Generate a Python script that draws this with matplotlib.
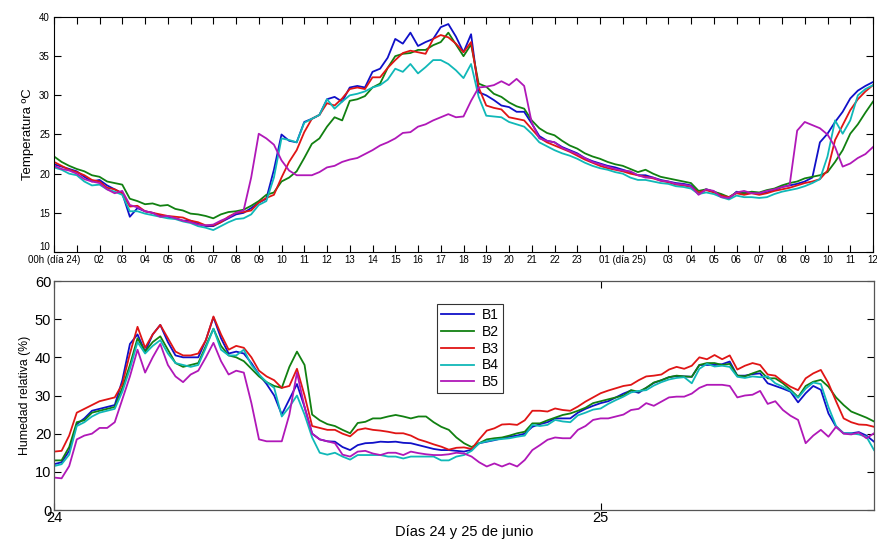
import numpy as np
import matplotlib
matplotlib.use("Agg")
import matplotlib.pyplot as plt

plt.rcParams['font.family'] = ['Liberation Sans', 'DejaVu Sans']

# readings every 20 minutes, from 00h on day 24 to 12h on day 25
STEP_H = 1 / 3

temp_b1 = [
    21.2, 20.9, 20.6, 20.3, 19.6, 19.0, 19.2, 18.5, 18.0, 17.5, 14.5, 15.6,
    15.2, 15.0, 14.6, 14.5, 14.3, 14.0, 14.0, 13.6, 13.3, 13.3, 13.8, 14.3,
    14.8, 15.0, 15.6, 16.3, 16.8, 20.5, 25.0, 24.2, 24.0, 26.6, 27.0, 27.5,
    29.5, 29.8, 29.2, 31.0, 31.2, 31.0, 33.0, 33.4, 34.8, 37.2, 36.6, 38.0,
    36.3, 36.8, 37.2, 38.7, 39.1, 37.5, 35.5, 37.8, 30.4, 30.0, 29.4, 28.7,
    28.5, 27.9, 27.9, 26.4, 24.8, 24.2, 24.0, 23.4, 23.0, 22.6, 22.0, 21.6,
    21.3, 21.0, 20.8, 20.5, 20.2, 19.8, 19.8, 19.5, 19.2, 19.0, 18.8, 18.7,
    18.5, 17.5, 18.0, 17.7, 17.3, 16.8, 17.7, 17.5, 17.6, 17.4, 17.6, 17.9,
    18.3, 18.5, 18.7, 19.0, 19.5, 24.0, 25.1, 26.6, 27.9, 29.6, 30.6, 31.2,
    31.7]
temp_b2 = [
    22.2, 21.5, 21.0, 20.6, 20.3, 19.8, 19.6, 19.0, 18.8, 18.6, 16.8, 16.5,
    16.1, 16.2, 15.9, 16.0, 15.5, 15.3, 14.9, 14.8, 14.6, 14.3, 14.8, 15.1,
    15.2, 15.4, 15.9, 16.5, 17.3, 17.6, 19.0, 19.5, 20.3, 22.0, 23.8, 24.5,
    26.0, 27.2, 26.8, 29.3, 29.5, 29.9, 31.0, 31.5, 33.5, 35.0, 35.3, 35.4,
    35.8, 35.8, 36.4, 36.8, 38.0, 36.5, 35.0, 36.5, 31.5, 31.1, 30.2, 29.8,
    29.1, 28.6, 28.3, 26.8, 25.8, 25.2, 24.9, 24.2, 23.6, 23.2, 22.6, 22.2,
    21.9, 21.5, 21.2, 21.0, 20.6, 20.2, 20.5, 20.0, 19.6, 19.4, 19.2, 19.0,
    18.8, 17.8, 18.0, 17.7, 17.4, 17.0, 17.6, 17.5, 17.7, 17.6, 17.9, 18.1,
    18.5, 18.8, 19.0, 19.4, 19.6, 19.8, 20.2, 21.5, 23.0, 25.1, 26.3, 27.8,
    29.2]
temp_b3 = [
    21.5, 21.0, 20.5, 20.2, 19.8, 19.2, 19.0, 18.2, 18.0, 17.5, 15.8, 15.9,
    15.2, 15.0, 14.8, 14.6, 14.5, 14.4, 14.0, 13.8, 13.4, 13.4, 13.8, 14.5,
    15.0, 15.1, 15.3, 16.3, 16.9, 17.3, 19.5, 21.5, 23.0, 25.3, 27.0, 27.5,
    29.0, 28.7, 29.6, 30.8, 31.0, 30.8, 32.3, 32.3, 33.5, 34.5, 35.4, 35.7,
    35.5, 35.3, 37.2, 37.7, 37.4, 36.6, 35.5, 36.8, 31.0, 28.7, 28.4, 28.2,
    27.2, 27.0, 26.8, 25.7, 24.6, 24.0, 23.6, 23.2, 22.8, 22.3, 21.8, 21.4,
    21.0, 20.7, 20.5, 20.3, 20.0, 19.8, 19.6, 19.4, 19.1, 18.9, 18.6, 18.5,
    18.3, 17.6, 17.9, 17.6, 17.2, 17.0, 17.5, 17.3, 17.5, 17.3, 17.5, 17.8,
    18.0, 18.2, 18.5, 18.8, 19.0, 19.3, 20.4, 24.3, 26.2, 28.1, 29.5, 30.5,
    31.3]
temp_b4 = [
    20.8, 20.5, 20.0, 19.8, 19.0, 18.5, 18.6, 18.0, 17.7, 17.3, 15.2, 15.2,
    14.9, 14.7, 14.5, 14.3, 14.2, 13.9, 13.7, 13.3, 13.1, 12.8, 13.3, 13.8,
    14.2, 14.3, 14.8, 16.0, 16.5, 19.5, 24.5, 24.3, 24.0, 26.5, 27.0, 27.5,
    29.5, 28.3, 29.2, 30.0, 30.2, 30.5, 31.0, 31.3, 32.0, 33.4, 33.0, 34.0,
    32.8, 33.6, 34.5, 34.5, 34.0, 33.2, 32.2, 34.0, 29.8, 27.4, 27.3, 27.2,
    26.6, 26.3, 26.0, 25.1, 24.0, 23.5, 23.0, 22.6, 22.3, 21.9, 21.4, 21.0,
    20.7, 20.5, 20.2, 20.0, 19.5, 19.2, 19.2, 19.0, 18.8, 18.7, 18.4, 18.3,
    18.1, 17.4, 17.6, 17.4, 17.0, 16.7, 17.2, 17.0, 17.0, 16.9, 17.0, 17.4,
    17.7, 17.9, 18.1, 18.4, 18.8, 19.3, 22.2, 26.8, 25.1, 26.8, 30.0, 30.8,
    31.3]
temp_b5 = [
    21.0, 20.6, 20.4, 20.0, 19.3, 19.0, 18.8, 18.0, 17.5, 17.8, 16.0, 15.7,
    15.2, 15.0, 14.5, 14.6, 14.3, 14.0, 13.8, 13.5, 13.4, 13.5, 14.0, 14.4,
    15.0, 15.3, 19.5, 25.1, 24.5, 23.7, 21.7, 20.4, 19.8, 19.8, 19.8, 20.2,
    20.8, 21.0, 21.5, 21.8, 22.0, 22.5, 23.0, 23.6, 24.0, 24.5, 25.2, 25.3,
    26.0, 26.3, 26.8, 27.2, 27.6, 27.2, 27.3, 29.3, 31.0, 31.1, 31.3, 31.8,
    31.3, 32.1, 31.2, 26.5, 24.5, 24.2, 24.0, 23.3, 22.9, 22.5, 22.0, 21.5,
    21.2, 20.9, 20.6, 20.4, 20.3, 19.8, 19.5, 19.5, 19.1, 19.0, 18.7, 18.6,
    18.4, 17.3, 18.0, 17.8, 17.0, 16.9, 17.6, 17.8, 17.5, 17.5, 17.8, 18.0,
    18.3, 18.5, 25.5, 26.6, 26.2, 25.8, 25.0, 23.4, 20.9, 21.3, 22.0, 22.5,
    23.4]

rh_b1 = [
    12.0, 12.5, 15.5, 22.5, 24.0, 26.0, 26.5, 27.0, 27.5, 34.0, 43.5, 46.0,
    41.5, 46.0, 48.5, 44.0, 40.5, 40.0, 40.0, 40.0, 44.5, 50.5, 45.0, 41.0,
    41.5, 41.0, 38.5, 35.5, 33.0, 30.0, 25.0, 29.0, 33.0, 27.0, 20.0, 18.5,
    18.0, 17.9, 16.5, 15.7, 17.0, 17.5, 17.6, 17.9, 17.8, 17.9, 17.6, 17.5,
    17.0, 16.5, 16.0, 15.7, 15.7, 15.5, 15.3, 15.8, 17.5, 17.9, 18.3, 18.8,
    19.2, 19.5, 20.0, 21.8, 22.5, 23.0, 24.0, 24.0, 24.0, 25.5, 26.5, 27.3,
    28.0, 28.5, 29.5, 30.5, 31.3, 30.7, 32.0, 33.3, 34.0, 34.8, 35.1, 35.0,
    34.9, 38.0, 38.0, 38.0, 38.2, 38.9, 35.2, 35.2, 35.6, 35.8, 33.2, 32.5,
    31.8, 31.0, 28.2, 30.6, 32.5, 31.5, 25.3, 21.8, 20.1, 20.1, 20.4, 19.5,
    17.9]
rh_b2 = [
    13.0, 13.0, 16.5, 23.0, 23.5, 25.5, 26.0, 26.5, 27.0, 32.0, 38.0, 45.0,
    41.5, 44.0, 45.5, 42.0, 38.5, 37.5, 38.0, 38.5, 43.0, 47.5, 43.0, 40.5,
    40.0, 39.0, 37.0, 35.0, 33.5, 32.5, 32.0, 37.5, 41.5, 38.0, 25.0, 23.5,
    22.5, 22.0, 21.0, 20.1, 22.8, 23.1, 24.0, 24.0, 24.5, 24.9, 24.5, 24.0,
    24.5, 24.5, 23.0, 21.8, 21.0, 19.0, 17.5, 16.5, 17.5, 18.5, 18.8, 19.0,
    19.5, 20.1, 20.5, 22.7, 22.7, 23.5, 24.2, 24.9, 25.3, 26.0, 26.8, 28.0,
    28.5, 29.0, 29.5, 30.0, 31.4, 31.0, 32.0, 33.4, 34.0, 34.8, 35.2, 35.0,
    34.9, 38.0, 38.5, 38.5, 38.0, 38.3, 35.2, 35.0, 35.8, 36.5, 34.5, 34.5,
    33.2, 31.5, 29.6, 32.5, 33.6, 34.1, 32.3, 29.5, 27.5, 25.8, 25.0, 24.2,
    23.2]
rh_b3 = [
    15.3, 15.5, 19.5, 25.5, 26.5, 27.5, 28.5, 29.0, 29.5, 33.0, 41.0, 48.0,
    42.5, 46.0, 48.5, 45.0, 41.5, 40.5, 40.5, 41.0, 44.5, 50.7, 46.0, 42.0,
    43.0, 42.5, 40.0, 36.5, 35.0, 34.0, 32.0, 32.5, 37.0, 30.0, 22.0, 21.5,
    21.0, 21.0, 20.0, 19.3, 21.0, 21.4, 21.0, 20.8, 20.5, 20.1, 20.1, 19.5,
    18.5, 17.9, 17.2, 16.6, 15.8, 16.3, 16.4, 16.0, 18.5, 20.8, 21.4, 22.4,
    22.5, 22.3, 23.5, 26.0, 26.0, 25.8, 26.6, 26.2, 26.0, 27.1, 28.4, 29.5,
    30.6, 31.3, 31.9, 32.5, 32.8, 34.0, 35.0, 35.2, 35.5, 36.8, 37.5, 37.0,
    37.8, 40.0, 39.5, 40.6, 39.5, 40.5, 36.8, 37.8, 38.5, 38.0, 35.5, 35.2,
    33.6, 32.3, 31.4, 34.5, 35.8, 36.7, 33.2, 28.5, 24.0, 23.0, 22.4, 22.3,
    21.8]
rh_b4 = [
    11.5, 12.0, 14.5, 22.0, 23.0, 24.5, 25.5, 26.0, 26.5, 31.0, 37.0, 44.0,
    41.0, 43.0, 44.5, 41.0, 38.5, 38.0, 37.5, 38.0, 42.5, 47.5, 42.0, 40.5,
    40.5, 42.0, 38.0, 35.5, 33.5, 32.0, 24.5, 27.0, 30.0, 25.0, 19.0, 15.0,
    14.5, 15.0, 14.0, 13.2, 14.4, 14.4, 14.4, 14.4, 14.0, 14.0, 13.5, 14.0,
    14.0, 14.0, 14.0, 13.0, 13.0, 14.0, 14.4, 15.5, 17.5, 18.0, 18.4, 18.6,
    18.8, 19.2, 19.5, 22.3, 22.0, 22.3, 23.6, 23.2, 23.0, 24.8, 25.5, 26.3,
    26.6, 27.8, 28.8, 29.7, 30.8, 31.2, 31.4, 32.6, 33.5, 34.2, 34.6, 34.8,
    33.2, 37.0, 38.3, 37.6, 37.8, 37.5, 34.9, 34.6, 35.0, 34.8, 35.0, 33.2,
    32.3, 31.2, 29.4, 31.8, 33.4, 33.0, 27.0, 22.0, 20.1, 20.1, 19.8, 19.2,
    15.7]
rh_b5 = [
    8.5, 8.3, 11.5, 18.5, 19.5, 20.0, 21.5, 21.5, 23.0, 29.0, 35.0, 42.0,
    36.0, 40.0, 43.5, 38.0, 35.0, 33.5, 35.5, 36.5, 40.0, 43.8, 39.0, 35.5,
    36.5, 36.0, 28.0, 18.5, 18.0, 18.0, 18.0, 25.0, 36.0, 27.0, 20.0, 18.5,
    18.0, 17.5, 14.5, 14.0, 15.3, 15.5, 14.8, 14.4, 15.0, 15.0, 14.4, 15.3,
    14.9, 14.6, 14.4, 14.4, 14.6, 15.0, 14.8, 14.0, 12.5, 11.4, 12.2, 11.4,
    12.2, 11.4, 13.1, 15.7, 17.0, 18.4, 19.0, 18.8, 18.8, 21.0, 22.0, 23.6,
    24.0, 24.0, 24.5, 25.0, 26.2, 26.5, 28.0, 27.3, 28.4, 29.5, 29.7, 29.7,
    30.5, 32.0, 32.8, 32.8, 32.8, 32.5, 29.5, 30.0, 30.2, 31.2, 27.8, 28.5,
    26.2, 24.7, 23.6, 17.5, 19.5, 21.0, 19.2, 21.8, 20.0, 19.8, 20.3, 18.8,
    20.1]

labels = ['B1', 'B2', 'B3', 'B4', 'B5']
colors = ['#1010c8', '#118011', '#e01515', '#10b8b8', '#b018b8']

hour_labels = ['00h (día 24)', ''] + ['%02d' % h for h in range(2, 24)] + \
    ['', '01 (día 25)', ''] + ['%02d' % h for h in range(3, 13)]

hours = np.arange(len(temp_b1)) * STEP_H
days = 24 + hours / 24

fig = plt.figure(figsize=(8.77, 5.43), dpi=100)
ax1 = fig.add_axes([54 / 877, 1 - 252 / 543, 819 / 877, 235 / 543])
ax2 = fig.add_axes([54 / 877, 1 - 510 / 543, 820 / 877, 229 / 543])

# temperature panel
for series, c in zip([temp_b1, temp_b2, temp_b3, temp_b4, temp_b5], colors):
    ax1.plot(hours, series, color=c, lw=1.3)
ax1.set_xlim(0, 36)
ax1.set_ylim(10, 40)
ax1.set_xticks(np.arange(0, 37))
ax1.set_xticklabels(hour_labels)
ax1.set_yticks(np.arange(10, 41, 5))
ax1.tick_params(direction='in', top=True, right=True, length=5,
                labelsize=7, pad=2, width=0.8)
ax1.tick_params(axis='y', pad=3)
ax1.get_yticklabels()[0].set_va('bottom')
ax1.set_ylabel('Temperatura ºC', fontsize=9.5, labelpad=4)

# relative humidity panel
for series, c, lab in zip([rh_b1, rh_b2, rh_b3, rh_b4, rh_b5], colors, labels):
    ax2.plot(days, series, color=c, lw=1.3, label=lab)
ax2.set_xlim(24, 25.5)
ax2.set_ylim(0, 60)
ax2.set_xticks([24, 25])
ax2.set_yticks(np.arange(0, 61, 10))
ax2.tick_params(direction='in', top=True, right=True, length=5,
                labelsize=10.5, pad=2, width=0.8)
ax2.tick_params(axis='x', pad=1)
ax2.set_ylabel('Humedad relativa (%)', fontsize=8.8, labelpad=3)
ax2.set_xlabel('Días 24 y 25 de junio', fontsize=10.5, labelpad=0)

leg = ax2.legend(loc='upper left', bbox_to_anchor=(0.467, 0.9), fontsize=10,
                 frameon=True, fancybox=False, edgecolor='black',
                 handlelength=2.4, labelspacing=0.2, borderpad=0.3,
                 handletextpad=0.5, borderaxespad=0)
leg.get_frame().set_linewidth(0.8)

for sp in ax1.spines.values():
    sp.set_linewidth(0.8)
for sp in ax2.spines.values():
    sp.set_linewidth(0.9)
    sp.set_color('#555555')

fig.savefig('out.png', dpi=100)
